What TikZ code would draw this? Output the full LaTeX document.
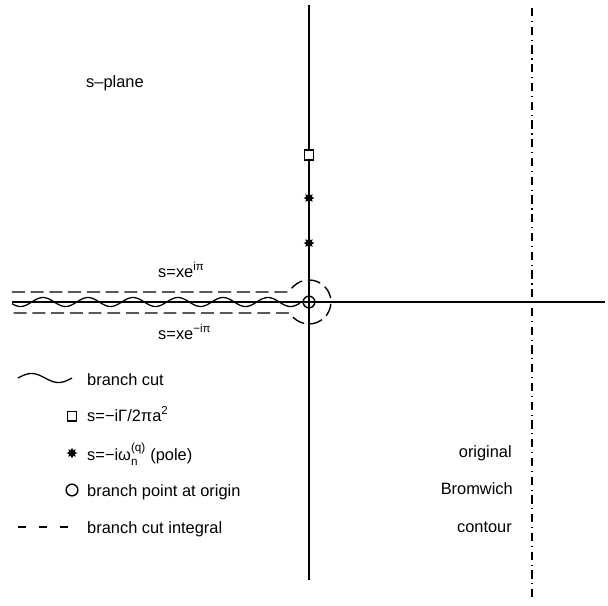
\documentclass[tikz,border=0pt]{standalone}
\usepackage{fontspec}
\setmainfont{Liberation Sans}
\usetikzlibrary{shapes.geometric}

\tikzset{
	axisline/.style={line width=1.4pt},
	cutline/.style={line width=1.2pt, dash pattern=on 11pt off 5pt},
	legdash/.style={line width=1.2pt, dash pattern=on 7pt off 11pt},
	bromwich/.style={line width=1.2pt, dash pattern=on 7pt off 4pt on 1pt off 4pt},
	wave/.style={line width=1.1pt},
	legtext/.style={anchor=base west, inner sep=0pt, font=\fontsize{14}{17}\selectfont},
	captext/.style={anchor=base east, inner sep=0pt, font=\fontsize{14}{17}\selectfont},
	sqmark/.style={draw, rectangle, line width=0.9pt, minimum width=7.5pt, minimum height=8.5pt, inner sep=0pt, fill=white},
	polemark/.style={star, star points=8, star point ratio=1.7, fill, inner sep=0pt, minimum size=9pt},
	originmark/.style={circle, draw, line width=1.2pt, minimum size=10pt, inner sep=0pt}
}
\newcommand{\supsub}[2]{\rlap{\raisebox{7pt}{\fontsize{10}{12}\selectfont #1}}\raisebox{-5pt}{\fontsize{10}{12}\selectfont #2}}

\begin{document}
\begin{tikzpicture}[x=0.03cm, y=-0.03cm]
		\useasboundingbox (0,0) rectangle (608,605);
		
		%axes
		\coordinate (ytop) at (309,5);
		\coordinate (ybot) at (309,580);
		\coordinate (xleft) at (12,302);
		\coordinate (xright) at (605,302);
		\draw[axisline] (ytop) -- (ybot);
		\draw[axisline] (xleft) -- (xright);
		
		%original Bromwich contour
		\coordinate (btop) at (532,8);
		\coordinate (bbot) at (532,598);
		\draw[bromwich] (btop) -- (bbot);
		
		%branch cut on the negative real axis
		\draw[wave] plot[domain=12:300, samples=160] (\x, {302-4.5*sin(8*(\x-31.75))});
		
		%keyhole around the cut
		\coordinate (ua) at (12,292);
		\coordinate (ub) at (288,292);
		\coordinate (uc) at (293.4,286.4);
		\coordinate (lb) at (289,313);
		\coordinate (la) at (12,313);
		\draw[cutline] (ua) -- (ub) -- (uc) arc[start angle=-135, end angle=135, radius=22] -- (lb) -- (la);
		
		%singularities
		\node[sqmark] (gam) at (309,155){};
		\foreach \y [count=\i] in {198, 243}{
			\node[polemark] (pole\i) at (309,\y){};
		}
		\node[originmark] (orig) at (309,302){};
		
		\node[legtext] (splane) at (86,87){s–plane};
		\node[legtext] (upper) at (158,277){s=xe\textsuperscript{iπ}};
		\node[legtext] (lower) at (158,339){s=xe\textsuperscript{−iπ}};
		
		%legend
		\draw[wave] plot[domain=18:72, samples=60] (\x, {378-4.5*sin(6.6667*(\x-18))});
		\node[legtext] (lcut) at (87,385){branch cut};
		\node[sqmark] (lsq) at (72,416){};
		\node[legtext] (lgam) at (87,421){s=−iΓ/2πa\textsuperscript{2}};
		\node[polemark] (lpole) at (72,453){};
		\node[legtext] (lpoletext) at (87,460){s=−iω\supsub{(q)}{n}\hspace{7pt} (pole)};
		\node[originmark] (lorig) at (72,490){};
		\node[legtext] (lorigtext) at (87,496){branch point at origin};
		\coordinate (dl) at (18,527);
		\coordinate (dr) at (70,527);
		\draw[legdash] (dl) -- (dr);
		\node[legtext] (lint) at (87,533){branch cut integral};
		
		\node[captext] (c1) at (512,457){original};
		\node[captext] (c2) at (513,494){Bromwich};
		\node[captext] (c3) at (512,532){contour};
\end{tikzpicture}
\end{document}
